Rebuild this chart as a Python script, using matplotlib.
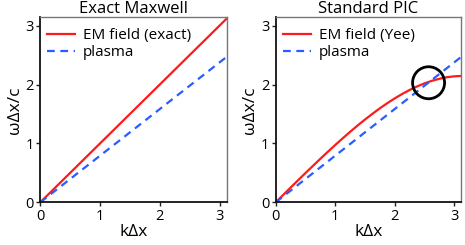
import matplotlib
matplotlib.use("Agg")
import matplotlib.pyplot as plt
from matplotlib.patches import Ellipse

plt.rcParams['font.family'] = ['Open Sans', 'DejaVu Sans']

# data
k_exact = [0.0, 3.12]
w_exact = [0.0, 3.12]
k_plasma = [0.0, 3.12]
w_plasma = [0.0, 2.47]
k_yee = [0.0, 0.125, 0.25, 0.375, 0.5, 0.625, 0.75, 0.875, 1.0, 1.125, 1.25, 1.375,
         1.5, 1.625, 1.75, 1.875, 2.0, 2.125, 2.25, 2.375, 2.5, 2.625, 2.75, 2.875,
         3.0, 3.0625, 3.12]
w_yee = [0.0, 0.125, 0.250, 0.374, 0.497, 0.618, 0.739, 0.857, 0.973, 1.086, 1.196, 1.303,
         1.405, 1.502, 1.596, 1.683, 1.764, 1.839, 1.907, 1.967, 2.019, 2.063, 2.097, 2.124,
         2.139, 2.143, 2.145]
titles = ["Exact Maxwell", "Standard PIC"]
em_labels = ["EM field (exact)", "EM field (Yee)"]
circle_center = (2.57, 2.03)
ticks = [0, 1, 2, 3]

fig = plt.figure(figsize=(4.65, 2.45), dpi=100)
ax1 = fig.add_axes([0.0867, 0.1743, 0.4008, 0.7547])
ax2 = fig.add_axes([0.593, 0.1743, 0.399, 0.7547])

red = '#ff1a1a'
blue = '#2a5cff'

for ax, title, lab in zip([ax1, ax2], titles, em_labels):
    if ax is ax1:
        ax.plot(k_exact, w_exact, color=red, lw=1.6, label=lab)
    else:
        ax.plot(k_yee, w_yee, color=red, lw=1.6, label=lab)
    ax.plot(k_plasma, w_plasma, color=blue, lw=1.6, ls=(0, (3.5, 2.5)), label="plasma")
    ax.set_xlim(0, 3.12)
    ax.set_ylim(0, 3.14)
    ax.set_xticks(ticks)
    ax.set_yticks(ticks)
    ax.set_title(title, fontsize=12, pad=1.5)
    ax.set_xlabel("kΔx", fontsize=12.5, labelpad=0)
    ax.set_ylabel("ωΔx/c", fontsize=12.5, labelpad=2)
    ax.tick_params(labelsize=10.5, length=3, width=1, pad=1.5, color='#222222')
    for s in ['left', 'bottom']:
        ax.spines[s].set_linewidth(1.3)
        ax.spines[s].set_color('#111111')
    for s in ['top', 'right']:
        ax.spines[s].set_linewidth(1.0)
        ax.spines[s].set_color('#777777')
    ax.legend(loc='upper left', frameon=False, fontsize=11, handlelength=1.85,
              borderaxespad=0.05, labelspacing=0.15, handletextpad=0.5,
              bbox_to_anchor=(0.0, 0.98))

# circle highlight (roughly 32 px diameter)
xr = 3.12 / (0.399 * 465)
yr = 3.14 / (0.7547 * 245)
ax2.add_patch(Ellipse(circle_center, width=32 * xr, height=32 * yr, fill=False,
                      ec='black', lw=2.0, zorder=5))

fig.savefig("out.png", dpi=100)
